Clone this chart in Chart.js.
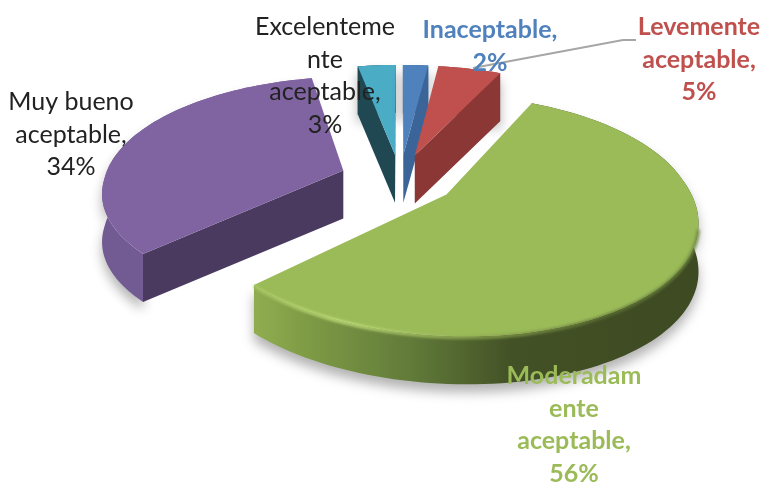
<!DOCTYPE html>
<html>
<head>
<meta charset="utf-8">
<style>
  html, body { margin: 0; background: #fff; }
  canvas { display: block; }
</style>
<script src="https://cdn.jsdelivr.net/npm/chart.js"></script>
</head>
<body>
<canvas id="chart" width="765" height="482"></canvas>
<script>
const categories = ['Inaceptable', 'Levemente aceptable', 'Moderadamente aceptable', 'Muy bueno aceptable', 'Excelentemente aceptable'];
const values = [2, 5, 56, 34, 3];
const wrappedNames = [
  ['Inaceptable,'],
  ['Levemente', 'aceptable,'],
  ['Moderadam', 'ente', 'aceptable,'],
  ['Muy bueno', 'aceptable,'],
  ['Excelenteme', 'nte', 'aceptable,']
];
const topColors = ['#4F81BD', '#C0504D', '#9BBB59', '#8064A2', '#4BACC6'];
const cutColors = ['#3B6598', '#8A3735', '#56692F', '#4A3A5F', '#1F4853'];
const labelColors = ['#4F81BD', '#C0504D', '#9BBB59', '#222222', '#222222'];
const labelWeights = ['bold', 'bold', 'bold', 'normal', 'normal'];
const labelX = [490, 699, 574, 71, 325];
const labelY = [30, 27, 376, 102, 27];
const sliceOffsets = [49, 49, 50, 54, 49];

// camera for the fake 3d look, the near half is stretched a bit more
const CX = 400, CY = 179, SX = 239, SY = 110, PERSP_BACK = 0.15, PERSP_FRONT = 0.18, SKEW = 8, DEPTH = 48;
const project = (x, y, down) => {
  const f = 1 / (1 - (y > 0 ? PERSP_FRONT : PERSP_BACK) * y);
  const lean = y > 0 ? SKEW * y * y : 0;
  return [CX + SX * x * f + lean, CY + SY * y * f + (down || 0)];
};

const tracePoly = (ctx, pts) => {
  ctx.beginPath();
  pts.forEach((p, i) => (i ? ctx.lineTo(p[0], p[1]) : ctx.moveTo(p[0], p[1])));
  ctx.closePath();
};

const wallFill = (ctx, i) => {
  const g = ctx.createLinearGradient(257, 0, 697, 0);
  if (i === 2) {
    g.addColorStop(0, '#8FAD4F');
    g.addColorStop(0.12, '#7D9A45');
    g.addColorStop(0.35, '#617B39');
    g.addColorStop(0.58, '#435126');
    g.addColorStop(1, '#3E4A22');
    return g;
  }
  return i === 3 ? '#725A92' : cutColors[i];
};

const drawSlice = (ctx, arc, i) => {
  const mid = (arc.startAngle + arc.endAngle) / 2;
  const off = arc.options.offset / arc.outerRadius;
  const ox = Math.cos(mid) * off, oy = Math.sin(mid) * off;
  const steps = Math.max(4, Math.round((arc.endAngle - arc.startAngle) / 0.03));
  const rim = [];
  const front = [];
  for (let s = 0; s <= steps; s++) {
    const a = arc.startAngle + (arc.endAngle - arc.startAngle) * s / steps;
    rim.push([ox + Math.cos(a), oy + Math.sin(a)]);
    if (Math.sin(a) > 0.25) front.push(rim[s]);
  }
  const apex = project(ox, oy);
  const apexLow = project(ox, oy, DEPTH);
  const rimTop = rim.map(p => project(p[0], p[1]));
  const rimLow = rim.map(p => project(p[0], p[1], DEPTH));
  const midRim = rimTop[Math.round(steps / 2)];

  // outer wall, with the soft floor shadow behind it
  ctx.save();
  ctx.shadowColor = 'rgba(0,0,0,0.3)';
  ctx.shadowBlur = 12;
  ctx.shadowOffsetY = 8;
  tracePoly(ctx, rimTop.concat(rimLow.slice().reverse()));
  ctx.fillStyle = wallFill(ctx, i);
  ctx.fill();
  ctx.restore();

  // cut faces, only the ones turned to the viewer
  [rimTop[0], rimTop[steps]].forEach((edge, k) => {
    const ex = edge[0] - apex[0], ey = edge[1] - apex[1];
    const inner = ex * (midRim[1] - apex[1]) - ey * (midRim[0] - apex[0]);
    if (ex * inner > 0) return;
    const low = k ? rimLow[steps] : rimLow[0];
    tracePoly(ctx, [apex, edge, low, apexLow]);
    ctx.fillStyle = cutColors[i];
    ctx.fill();
  });

  tracePoly(ctx, [apex].concat(rimTop));
  ctx.fillStyle = topColors[i];
  ctx.fill();

  // bright bevel along the front rim of the big slice
  if (i === 2) {
    const g = ctx.createLinearGradient(257, 0, 697, 0);
    g.addColorStop(0, '#A9C763');
    g.addColorStop(0.2, '#C6E47E');
    g.addColorStop(0.5, '#8DA84F');
    g.addColorStop(0.8, '#5C7033');
    g.addColorStop(1, '#6F8A3F');
    ctx.save();
    ctx.filter = 'blur(1.5px)';
    ctx.strokeStyle = g;
    ctx.lineWidth = 3;
    ctx.beginPath();
    front.map(p => project(p[0], p[1], 1)).forEach((p, s) => (s ? ctx.lineTo(p[0], p[1]) : ctx.moveTo(p[0], p[1])));
    ctx.stroke();
    ctx.restore();
  }
};

const pie3d = {
  id: 'pie3d',
  beforeDatasetDraw(chart) {
    const ctx = chart.ctx;
    const arcs = chart.getDatasetMeta(0).data;
    // back to front
    [3, 4, 0, 1, 2].forEach(i => drawSlice(ctx, arcs[i], i));
    return false;
  },
  afterDraw(chart) {
    const ctx = chart.ctx;
    ctx.save();
    // leader line of the red label
    ctx.strokeStyle = '#A6A6A6';
    ctx.lineWidth = 2;
    ctx.beginPath();
    ctx.moveTo(473, 68);
    ctx.lineTo(623, 40);
    ctx.lineTo(636, 40);
    ctx.stroke();
    ctx.textAlign = 'center';
    ctx.textBaseline = 'middle';
    wrappedNames.forEach((lines, i) => {
      ctx.font = labelWeights[i] + ' 25px Lato';
      ctx.fillStyle = labelColors[i];
      lines.concat(values[i] + '%').forEach((t, k) => {
        ctx.fillText(t, labelX[i], labelY[i] + k * 32.5);
      });
    });
    ctx.restore();
  }
};

new Chart(document.getElementById('chart'), {
  type: 'pie',
  data: {
    labels: categories,
    datasets: [{
      data: values,
      backgroundColor: topColors,
      borderWidth: 0,
      offset: sliceOffsets
    }]
  },
  options: {
    responsive: false,
    animation: false,
    plugins: { legend: { display: false }, tooltip: { enabled: false } }
  },
  plugins: [pie3d]
});
</script>
</body>
</html>
